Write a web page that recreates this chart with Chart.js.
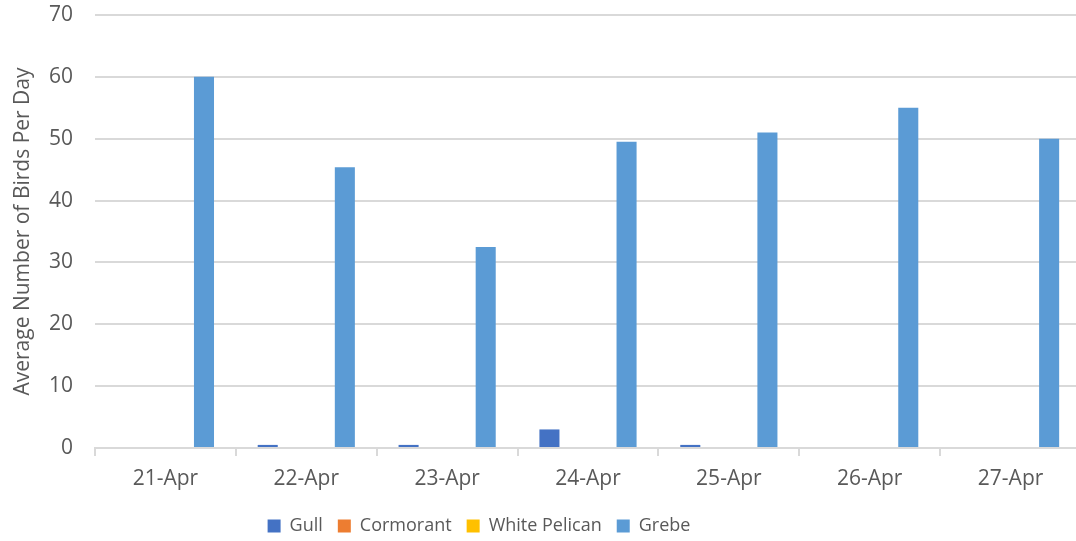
<!DOCTYPE html>
<html>
<head>
<meta charset="utf-8">
<script src="https://cdn.jsdelivr.net/npm/chart.js@4/dist/chart.umd.min.js"></script>
<style>
html,body{margin:0;padding:0;background:#fff;}
#wrap{width:1076px;height:541px;position:relative;}
</style>
</head>
<body>
<div id="wrap"><canvas id="c" width="1076" height="541"></canvas></div>
<script>
const categories = ["21-Apr","22-Apr","23-Apr","24-Apr","25-Apr","26-Apr","27-Apr"];
const gull = [0, 0.5, 0.5, 3, 0.5, 0, 0];
const cormorant = [0, 0, 0, 0, 0, 0, 0];
const whitePelican = [0, 0, 0, 0, 0, 0, 0];
const grebe = [60, 45.4, 32.5, 49.5, 51, 55, 50];
const yTicks = [0, 10, 20, 30, 40, 50, 60, 70];

const FONT = "'Open Sans', 'Noto Sans', sans-serif";
const TXT = '#595959';
const GRID = '#d9d9d9';

const layoutTweak = {
  id:'layoutTweak',
  afterLayout(chart){
    const lg = chart.legend;
    if (lg) { lg.left -= 59; lg.right -= 59; }
    // plot area in the reference runs slightly past the right edge of the image
    const ext = 5;
    const x = chart.scales.x;
    x.right += ext; x.width += ext; x.configure();
    chart.chartArea.right += ext; chart.chartArea.width += ext;
  }
};

new Chart(document.getElementById('c'), {
  type: 'bar',
  data: {
    labels: categories,
    datasets: [
      {label:'Gull', data:gull, backgroundColor:'#4472C4'},
      {label:'Cormorant', data:cormorant, backgroundColor:'#ED7D31'},
      {label:'White Pelican', data:whitePelican, backgroundColor:'#FFC000'},
      {label:'Grebe', data:grebe, backgroundColor:'#5B9BD5'}
    ]
  },
  plugins:[layoutTweak],
  options: {
    responsive:false,
    animation:false,
    devicePixelRatio:1,
    datasets:{bar:{categoryPercentage:0.73, barPercentage:0.78}},
    layout:{padding:{top:15, right:0, left:0, bottom:-4}},
    plugins:{
      legend:{
        position:'bottom',
        labels:{boxWidth:13, boxHeight:13, padding:15, color:TXT, font:{family:FONT, size:18}}
      },
      tooltip:{enabled:false}
    },
    scales:{
      x:{
        grid:{offset:true, drawOnChartArea:false, drawTicks:true, tickLength:8, color:GRID, lineWidth:2},
        border:{display:true, color:GRID, width:2},
        ticks:{color:TXT, font:{family:FONT, size:21}, padding:10},
        afterFit(s){ s.height = 54; }
      },
      y:{
        min:0, max:70,
        afterBuildTicks(s){ s.ticks = yTicks.map(v=>({value:v})); },
        grid:{color:GRID, lineWidth:2, drawTicks:false},
        border:{display:false},
        ticks:{color:TXT, font:{family:FONT, size:21}, padding:22},
        title:{display:true, text:'Average Number of Birds Per Day', color:TXT, font:{family:FONT, size:21}, padding:{top:10,bottom:0}},
        afterFit(s){ s.width = 95; s.paddingTop = 0; s.paddingBottom = 0; }
      }
    }
  }
});
</script>
</body>
</html>
